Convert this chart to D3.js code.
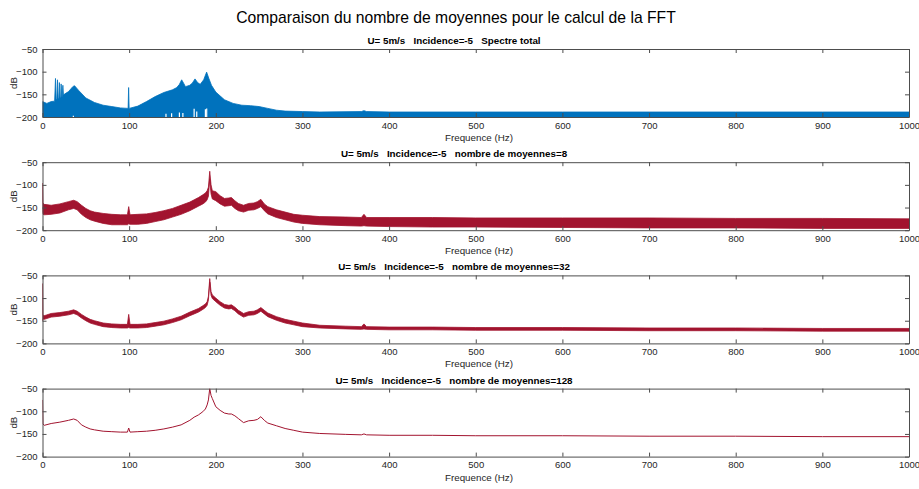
<!DOCTYPE html>
<html><head><meta charset="utf-8">
<script src="https://cdn.jsdelivr.net/npm/d3@7"></script>
<style>
body{margin:0;background:#fff;}
text{font-family:"Liberation Sans",Arial,Helvetica,sans-serif;white-space:pre;}
</style></head>
<body><svg id="chart" width="919" height="489"></svg>
<script>
// ---------- DATA ----------
const mainTitle = "Comparaison du nombre de moyennes pour le calcul de la FFT";
const panelTitles = [
  "U= 5m/s   Incidence=-5   Spectre total",
  "U= 5m/s   Incidence=-5   nombre de moyennes=8",
  "U= 5m/s   Incidence=-5   nombre de moyennes=32",
  "U= 5m/s   Incidence=-5   nombre de moyennes=128"
];
const xLabel = "Frequence (Hz)";
const yLabel = "dB";
const xTicks = [0,100,200,300,400,500,600,700,800,900,1000];
const yTicks = [-50,-100,-150,-200];

// Panel 1: total spectrum, top envelope of the filled trace (bottom at -200)
const freqTotal = [0,5,10,14,15,15.8,16.6,17.3,18,18.8,19.5,20.2,21,21.5,22.2,22.8,23.5,24.2,25,30,35,37,42,50,60,70,80,90,98.8,99.4,100,110,120,130,140,150,155,158,160.6,163,165,170,173,176,179,182,186,189.4,192,195,200,210,220,230,240,250,260,270,280,300,320,368,371,374,400,500,600,700,800,900,1000];
const dbTotal   = [-166,-170,-166,-165,-115,-163,-160,-118,-160,-158,-124,-158,-156,-127,-155,-154,-130,-152,-150,-144,-133,-131,-142,-158,-168,-174,-177,-180,-181,-135,-181,-176,-166,-155,-146,-140,-135,-128,-118,-126,-133,-130,-125,-116,-124,-128,-118,-101,-115,-130,-145,-162,-170,-174,-175,-177,-181,-185,-187,-188,-189,-188,-186,-188,-189,-189,-189,-189,-189,-189,-189];
// white drop-outs at the bottom of the total spectrum (freq, top dB)
const dropFreq = [35.6,142.5,149,158,162,175,178,188,189.5];
const dropDb   = [-197,-193,-192,-190,-191,-182,-188,-183,-181];

// Panels 2-4: averaged spectra, shared frequency grid
const freqAvg = [0,0.5,2,10,20,30,36,40,45,50,55,60,70,80,90,98,99.5,101,110,120,130,140,150,160,170,175,180,185,188,190,191.5,193,194.5,196,200,205,210,215,218,222,226,232,238,244,248,252,256,260,270,280,290,300,320,350,368,371,374,400,450,500,600,700,800,900,1000];
// 8 averages: upper / lower edge of the noisy trace
const avg8Hi = [-96,-140,-143,-145,-142,-137,-134,-137,-145,-152,-157,-160,-163,-165,-166,-166,-148,-166,-165,-164,-161,-157,-152,-145,-138,-133,-128,-122,-118,-113,-105,-70,-100,-113,-115,-124,-130,-129,-128,-135,-141,-145,-141,-140,-137,-132,-142,-148,-155,-160,-165,-167,-170,-171,-172,-165,-172,-172,-172,-173,-173,-173,-174,-174,-175];
const avg8Lo = [-160,-165,-166,-165,-162,-155,-152,-155,-165,-172,-177,-180,-185,-188,-188,-188,-186,-187,-187,-185,-181,-177,-171,-165,-157,-152,-147,-142,-138,-133,-125,-88,-120,-131,-135,-142,-147,-146,-145,-152,-157,-160,-156,-155,-152,-148,-157,-164,-172,-177,-182,-185,-188,-190,-191,-190,-191,-192,-193,-193,-194,-195,-195,-196,-196];
// 32 averages
const avg32Hi = [-68,-136,-139,-134,-132,-129,-126,-129,-136,-142,-147,-150,-155,-157,-158,-158,-136,-158,-158,-157,-154,-151,-146,-140,-131,-127,-123,-117,-113,-108,-96,-57,-86,-93,-100,-108,-114,-116,-115,-120,-127,-134,-130,-129,-126,-121,-127,-133,-141,-147,-151,-155,-160,-162,-163,-157,-163,-164,-164,-165,-165,-166,-166,-167,-167];
const avg32Lo = [-150,-146,-147,-142,-140,-137,-134,-137,-144,-150,-155,-158,-163,-165,-166,-166,-165,-166,-166,-165,-162,-159,-154,-148,-139,-135,-131,-125,-121,-116,-104,-65,-94,-101,-108,-116,-122,-124,-123,-128,-135,-142,-138,-137,-134,-129,-135,-141,-149,-155,-159,-163,-166,-168,-169,-168,-169,-170,-170,-171,-171,-172,-172,-173,-173];
// 128 averages
const avg128 = [-75,-128,-131,-127,-124,-120,-117,-120,-130,-135,-139,-141,-144,-145,-146,-146,-137,-146,-145,-144,-142,-139,-135,-130,-120,-113,-108,-101,-95,-86,-75,-50,-65,-72,-90,-98,-104,-106,-106,-110,-116,-125,-121,-120,-118,-112,-120,-126,-132,-138,-142,-146,-149,-151,-152,-150,-152,-153,-153,-154,-154,-155,-155,-156,-156];

const blue = "#0072BD", crimson = "#A2142F";

// ---------- LAYOUT ----------
const svg = d3.select("#chart");
const L = 42.5, R = 909, panelH = 68, top0 = 49, step = 113.2;
const x = d3.scaleLinear().domain([0,1000]).range([L,R]);
const axisCol = "#4d4d4d", textCol = "#262626";

svg.append("text").attr("x",456).attr("y",23).attr("text-anchor","middle")
  .attr("font-size",15.7).attr("fill","#000").text(mainTitle);

for (let i=0;i<4;i++){
  const T = top0 + i*step, B = T + panelH;
  const y = d3.scaleLinear().domain([-200,-50]).range([B,T]);
  const g = svg.append("g");
  const cid = "clip"+i;
  svg.append("clipPath").attr("id",cid).append("rect")
     .attr("x",L).attr("y",T).attr("width",R-L).attr("height",panelH);
  const dg = g.append("g").attr("clip-path",`url(#${cid})`);

  if (i===0){
    const pts = freqTotal.map((f,k)=>[f,dbTotal[k]]);
    dg.append("path").datum(pts)
      .attr("d", d3.area().x(d=>x(d[0])).y0(y(-200)).y1(d=>y(d[1])))
      .attr("fill",blue).attr("stroke",blue).attr("stroke-width",0.8);
    dg.selectAll("line.drop").data(dropFreq).enter().append("line")
      .attr("x1",d=>x(d)).attr("x2",d=>x(d)).attr("y1",y(-200))
      .attr("y2",(d,k)=>y(dropDb[k])).attr("stroke","#fff").attr("stroke-width",1.2);
  } else if (i<3){
    const hi = i===1?avg8Hi:avg32Hi, lo = i===1?avg8Lo:avg32Lo;
    const pts = freqAvg.map((f,k)=>[f,hi[k],lo[k]]);
    dg.append("path").datum(pts)
      .attr("d", d3.area().x(d=>x(d[0])).y0(d=>y(d[2])).y1(d=>y(d[1])))
      .attr("fill",crimson).attr("stroke",crimson).attr("stroke-width",0.8);
  } else {
    const pts = freqAvg.map((f,k)=>[f,avg128[k]]);
    dg.append("path").datum(pts)
      .attr("d", d3.line().x(d=>x(d[0])).y(d=>y(d[1])))
      .attr("fill","none").attr("stroke",crimson).attr("stroke-width",1);
  }

  // axes (MATLAB style, ticks inside, mirrored)
  const tl = 4, fmt = d3.format("d");
  const axB = g.append("g").attr("transform",`translate(0,${B})`)
    .call(d3.axisBottom(x).tickValues(xTicks).tickFormat(fmt).tickSizeInner(-tl).tickSizeOuter(0).tickPadding(5));
  const axT = g.append("g").attr("transform",`translate(0,${T})`)
    .call(d3.axisTop(x).tickValues(xTicks).tickSizeInner(-tl).tickSizeOuter(0).tickFormat(""));
  const axL = g.append("g").attr("transform",`translate(${L},0)`)
    .call(d3.axisLeft(y).tickValues(yTicks).tickFormat(fmt).tickSizeInner(-tl).tickSizeOuter(0).tickPadding(5));
  const axR = g.append("g").attr("transform",`translate(${R},0)`)
    .call(d3.axisRight(y).tickValues(yTicks).tickSizeInner(-tl).tickSizeOuter(0).tickFormat(""));
  [axB,axT,axL,axR].forEach(a=>{
    a.selectAll("path.domain").attr("stroke",axisCol).attr("stroke-width",1);
    a.selectAll(".tick line").attr("stroke",axisCol);
    a.selectAll("text").attr("font-size",9.5).attr("fill",textCol)
      .attr("font-family","'Liberation Sans',Arial,sans-serif");
  });

  g.append("text").attr("x",454).attr("y",T-5).attr("text-anchor","middle")
    .attr("font-size",9.8).attr("font-weight","bold").attr("fill","#000").text(panelTitles[i]);
  g.append("text").attr("x",479).attr("y",B+24).attr("text-anchor","middle")
    .attr("font-size",9.8).attr("fill",textCol).text(xLabel);
  g.append("text").attr("transform",`translate(17,${(T+B)/2}) rotate(-90)`)
    .attr("text-anchor","middle").attr("font-size",9.8).attr("fill",textCol).text(yLabel);
}
</script></body></html>
